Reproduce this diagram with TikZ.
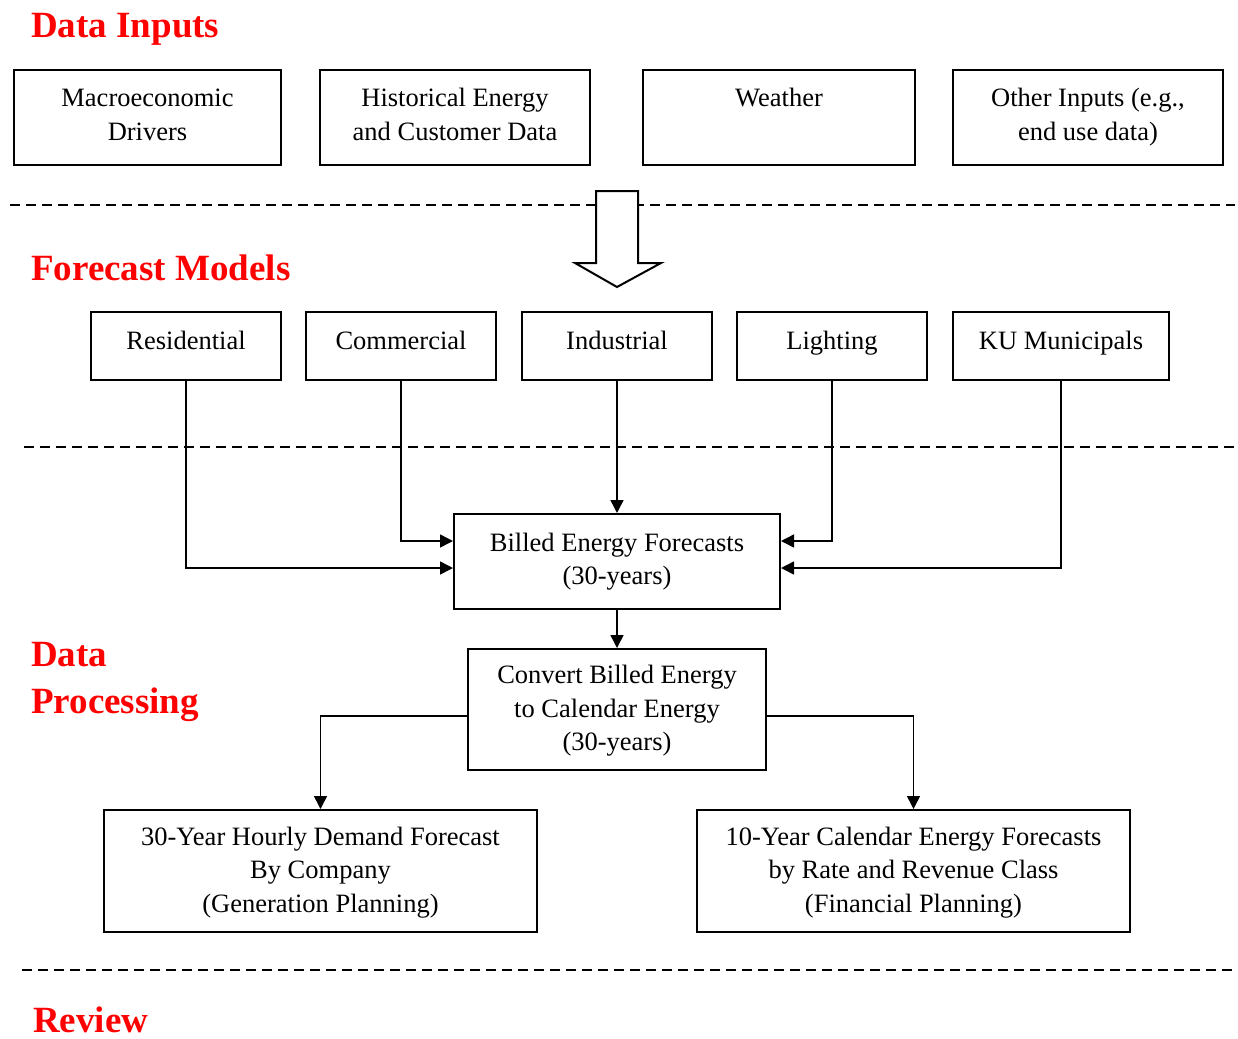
\documentclass[tikz,border=0pt]{standalone}
\usepackage{fontspec}
\setmainfont{Liberation Serif}
\usetikzlibrary{arrows.meta}
\begin{document}
\begin{tikzpicture}[x=1pt,y=-1pt,
  box/.style={draw,line width=2pt,inner sep=0pt,align=center,font=\fontsize{26.5}{33.5}\selectfont},
  head/.style={text=red,font=\fontsize{37}{47}\selectfont\bfseries,inner sep=0pt,anchor=base west},
  conn/.style={line width=1.5pt,-{Triangle[length=13pt,width=13pt]}},
  sep/.style={line width=1.5pt,dash pattern=on 10pt off 6pt}]
\useasboundingbox (0,0) rectangle (1238,1038);
% headings
\node[head] (hin) at (31,38) {Data Inputs};
\node[head] (hfm) at (31,280) {Forecast Models};
\node[head] (hdp) at (31,666) {Data};
\node[head] (hdq) at (31,713) {Processing};
\node[head] (hrv) at (33,1032) {Review};
% separators
\draw[sep] (10,205) -- (1235,205);
\draw[sep] (24,447) -- (1235,447);
\draw[sep] (22,970) -- (1235,970);
% input boxes
\node[box,minimum width=267pt,minimum height=95pt,text depth=6pt] (mac) at (147.5,117.5) {Macroeconomic\\Drivers};
\node[box,minimum width=270pt,minimum height=95pt,text depth=6pt] (his) at (455,117.5) {Historical Energy\\and Customer Data};
\node[box,minimum width=272pt,minimum height=95pt,text depth=6pt] (wea) at (779,117.5) {Weather\\\strut};
\node[box,minimum width=270pt,minimum height=95pt,text depth=6pt] (oth) at (1088,117.5) {Other Inputs (e.g.,\\end use data)};
% hollow arrow
\draw[line width=2pt,fill=white,line join=miter] (596,191) -- (638,191) -- (638,263) -- (661,263) -- (617,287) -- (575,263) -- (596,263) -- cycle;
% model boxes
\node[box,minimum width=190pt,minimum height=68pt,text depth=12pt] (res) at (186,346) {Residential};
\node[box,minimum width=190pt,minimum height=68pt,text depth=12pt] (com) at (401,346) {Commercial};
\node[box,minimum width=190pt,minimum height=68pt,text depth=12pt] (ind) at (617,346) {Industrial};
\node[box,minimum width=190pt,minimum height=68pt,text depth=12pt] (lig) at (832,346) {Lighting};
\node[box,minimum width=216pt,minimum height=68pt,text depth=12pt] (kum) at (1061,346) {KU Municipals};
% processing boxes
\node[box,minimum width=326pt,minimum height=95pt] (bil) at (617,561.5) {Billed Energy Forecasts\\(30-years)};
\node[box,minimum width=298pt,minimum height=121pt,text depth=3pt] (cnv) at (617,709.5) {Convert Billed Energy\\to Calendar Energy\\(30-years)};
\node[box,minimum width=433pt,minimum height=122pt,text depth=3pt] (hrl) at (320.5,871) {30-Year Hourly Demand Forecast\\By Company\\(Generation Planning)};
\node[box,minimum width=433pt,minimum height=122pt,text depth=3pt] (cal) at (913.5,871) {10-Year Calendar Energy Forecasts\\by Rate and Revenue Class\\(Financial Planning)};
% connectors
\draw[conn] (res.south) |- ([yshift=-6.5pt]bil.west);
\draw[conn] (com.south) |- ([yshift=20.5pt]bil.west);
\draw[conn] (ind.south) -- (bil.north);
\draw[conn] (lig.south) |- ([yshift=20.5pt]bil.east);
\draw[conn] (kum.south) |- ([yshift=-6.5pt]bil.east);
\draw[conn] (bil.south) -- (cnv.north);
\draw[conn] ([yshift=-6.5pt]cnv.west) -| (hrl.north);
\draw[conn] ([yshift=-6.5pt]cnv.east) -| (cal.north);
\end{tikzpicture}
\end{document}
